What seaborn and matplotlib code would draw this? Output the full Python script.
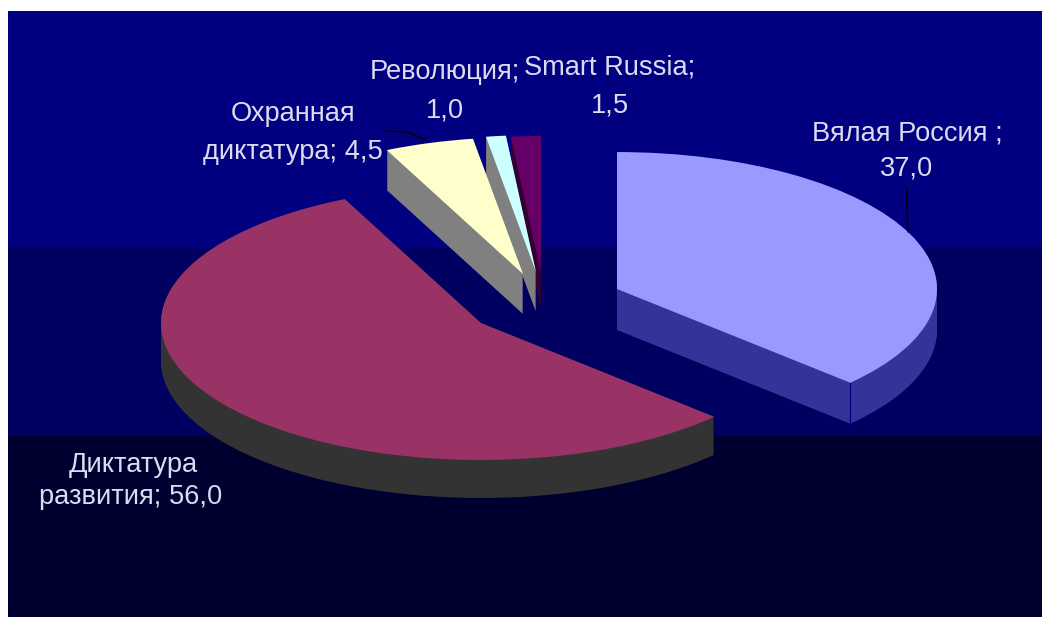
import numpy as np
import matplotlib
matplotlib.use("Agg")
import matplotlib.pyplot as plt
import seaborn as sns

# --- data ---
categories = ["Вялая Россия", "Диктатура развития", "Охранная диктатура", "Революция", "Smart Russia"]
values = [37.0, 56.0, 4.5, 1.0, 1.5]

# --- colours ---
top_colors = sns.color_palette(["#9999FF", "#993366", "#FFFFCC", "#CCFFFF", "#660066"])
side_colors = sns.color_palette(["#333399", "#333333", "#808080", "#808080", "#330033"])
band_colors = ["#000080", "#000060", "#000030"]
text_color = "#DCDCF0"

# --- layout, in pixels of the picture ---
W, H = 1042, 617
SQUASH = 0.428          # flattening of the pie
RADIUS = 320
apex_x = [617, 481, 523, 536, 541]
apex_y = [289, 323, 274, 272, 273]
depths = [41, 38, 40, 40, 36]


def py(y):
    # pixel row to data y, the axes stretch y so the circle becomes an ellipse
    return (H - y) / SQUASH


sns.set_theme(style="white")
plt.rcParams["font.family"] = ["Liberation Sans", "DejaVu Sans"]

fig = plt.figure(figsize=(W / 100, H / 100), dpi=100, facecolor="white")
ax = fig.add_axes([0, 0, 1, 1])
ax.axis("off")

# background bands
band_edges = [11, 248, 436, H]
for i in range(3):
    ax.axhspan(py(band_edges[i + 1]), py(band_edges[i]), xmin=8 / W, xmax=1,
               color=band_colors[i], lw=0, zorder=0)


def draw_pie(colors, drop):
    wedges = ax.pie(values, colors=colors, startangle=90, counterclock=False,
                    radius=RADIUS, frame=True, wedgeprops={"linewidth": 0, "zorder": 2})[0]
    for i, w in enumerate(wedges):
        w.set_center((apex_x[i], py(apex_y[i] + drop)))
        if drop > depths[i]:
            w.set_visible(False)


# side walls: the same pie stacked downwards, then the top surface
for drop in range(max(depths), 0, -1):
    draw_pie(side_colors, drop)
draw_pie(top_colors, 0)

# crease where the rim of the first slice meets its cut side
theta = 2 * np.pi * values[0] / sum(values)
crease_x = apex_x[0] + RADIUS * np.sin(theta)
crease_y = apex_y[0] - RADIUS * SQUASH * np.cos(theta)
ax.plot([crease_x, crease_x], [py(crease_y), py(crease_y + depths[0])],
        color="#000080", lw=0.9, zorder=3)

ax.set_aspect("auto")
ax.set_xlim(0, W)
ax.set_ylim(0, H / SQUASH)

# leader lines
ax.plot([907, 907, 908], [py(188), py(209), py(232)], color="black", lw=1.1, zorder=3)
ax.plot([385, 408, 427], [py(131), py(132), py(141)], color="black", lw=1.1, zorder=3)

# labels
labels = [
    ("Вялая Россия ;", 907, 133), ("37,0", 907, 168),
    ("Диктатура", 133, 465), ("развития; 56,0", 131, 497),
    ("Охранная", 293, 114), ("диктатура; 4,5", 293, 152),
    ("Революция;", 445, 72), ("1,0", 445, 110),
    ("Smart Russia;", 610, 68), ("1,5", 610, 105),
]
for txt, x, y in labels:
    ax.text(x, py(y), txt, color=text_color, fontsize=19.6, ha="center", va="center", zorder=4)

fig.savefig("out.png", dpi=100, facecolor="white")
